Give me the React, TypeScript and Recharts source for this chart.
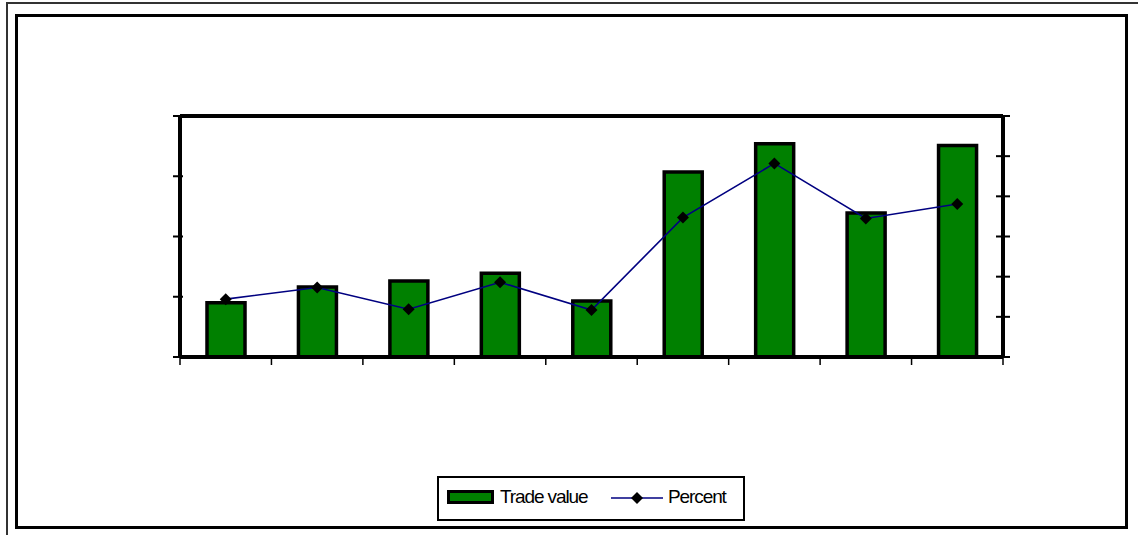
import React from 'react';
import { ComposedChart, Bar, Line, XAxis, YAxis, ReferenceLine } from 'recharts';

const categories = ['1', '2', '3', '4', '5', '6', '7', '8', '9'];
const tradeValue = [0.9, 1.16, 1.26, 1.39, 0.93, 3.07, 3.54, 2.39, 3.51];
const percent = [1.44, 1.73, 1.19, 1.86, 1.17, 3.47, 4.82, 3.45, 3.81];
const leftTicks = [0, 1, 2, 3, 4];
const rightTicks = [0, 1, 2, 3, 4, 5, 6];
const boundaryTicks = [0, 1, 2, 3, 4, 5, 6, 7, 8, 9];
const tradeName = 'Trade value';
const percentName = 'Percent';

// each category sits in the middle of its slot on a 0..9 numeric axis
const data = categories.map((c, i) => ({ cat: c, pos: i + 0.5, trade: tradeValue[i], pct: percent[i] }));

const Diamond = (props: any) => {
  const { cx, cy, index } = props;
  if (cx == null || cy == null) return null;
  const r = 6;
  return (
    <polygon
      key={`d-${index}`}
      points={`${cx},${cy - r} ${cx + r},${cy} ${cx},${cy + r} ${cx - r},${cy}`}
      fill="#000"
    />
  );
};

const LeftTick = (props: any) => {
  const { x, y } = props;
  return <line x1={x - 7} y1={y} x2={x + 3} y2={y} stroke="#000" strokeWidth={2} />;
};
const RightTick = (props: any) => {
  const { x, y } = props;
  return <line x1={x - 7} y1={y} x2={x + 7} y2={y} stroke="#000" strokeWidth={2} />;
};
const BottomTick = (props: any) => {
  const { x, y } = props;
  return <line x1={x} y1={y} x2={x} y2={y + 8} stroke="#000" strokeWidth={1.5} />;
};

export default function App() {
  const font = '"Liberation Sans", Arial, sans-serif';
  return (
    <div style={{ position: 'absolute', left: 0, top: 0, width: 1138, height: 535, overflow: 'hidden', background: '#fff' }}>
      <div style={{ position: 'absolute', left: 6, top: 2, width: 1200, height: 600, border: '2px solid #333', boxSizing: 'border-box' }} />
      <div style={{ position: 'absolute', left: 15, top: 14, width: 1113, height: 515, border: '3px solid #000', boxSizing: 'border-box' }} />
      <div style={{ position: 'absolute', left: 0, top: 0 }}>
        <ComposedChart width={1138} height={535} data={data} margin={{ top: 116, right: 125, bottom: 168, left: 170 }}>
          <XAxis
            dataKey="pos"
            type="number"
            domain={[0, 9]}
            allowDataOverflow
            ticks={boundaryTicks}
            interval={0}
            height={10}
            tick={BottomTick}
            tickSize={0}
            tickMargin={0}
            tickLine={false}
            stroke="#000"
            strokeWidth={4}
            axisLine={{ stroke: '#000', strokeWidth: 4 }}
          />
          <YAxis
            yAxisId="left"
            orientation="left"
            width={10}
            domain={[0, 4]}
            allowDataOverflow
            ticks={leftTicks}
            interval={0}
            tick={LeftTick}
            tickSize={0}
            tickMargin={0}
            tickLine={false}
            stroke="#000"
            strokeWidth={4}
            axisLine={{ stroke: '#000', strokeWidth: 4 }}
          />
          <YAxis
            yAxisId="right"
            orientation="right"
            width={10}
            domain={[0, 6]}
            allowDataOverflow
            ticks={rightTicks}
            interval={0}
            tick={RightTick}
            tickSize={0}
            tickMargin={0}
            tickLine={false}
            stroke="#000"
            strokeWidth={4}
            axisLine={{ stroke: '#000', strokeWidth: 4 }}
          />
          <ReferenceLine yAxisId="left" y={4} stroke="#000" strokeWidth={4} />
          <Bar
            yAxisId="left"
            dataKey="trade"
            name={tradeName}
            fill="#008000"
            stroke="#000"
            strokeWidth={3.5}
            barSize={38}
            isAnimationActive={false}
          />
          <Line
            yAxisId="right"
            dataKey="pct"
            name={percentName}
            type="linear"
            stroke="#000080"
            strokeWidth={1.6}
            dot={Diamond}
            activeDot={false}
            isAnimationActive={false}
          />
        </ComposedChart>
      </div>
      <div
        style={{
          position: 'absolute',
          left: 437,
          top: 476,
          width: 308,
          height: 45,
          border: '2px solid #000',
          boxSizing: 'border-box',
          fontFamily: font,
          fontSize: 19,
          letterSpacing: -1.1,
          color: '#000',
        }}
      >
        <div style={{ position: 'absolute', left: 8, top: 12, width: 47, height: 14, background: '#008000', border: '3px solid #000', boxSizing: 'border-box' }} />
        <div style={{ position: 'absolute', left: 61, top: 8, lineHeight: '22px' }}>{tradeName}</div>
        <svg style={{ position: 'absolute', left: 172, top: 10 }} width={54} height={20}>
          <line x1={0} y1={10} x2={52} y2={10} stroke="#000080" strokeWidth={1.5} />
          <polygon points="26,4 32,10 26,16 20,10" fill="#000" />
        </svg>
        <div style={{ position: 'absolute', left: 229, top: 8, lineHeight: '22px' }}>{percentName}</div>
      </div>
    </div>
  );
}
